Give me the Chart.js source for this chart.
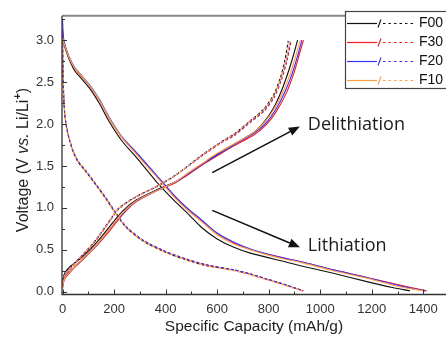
<!DOCTYPE html>
<html lang="en">
<head>
<meta charset="UTF-8">
<title>Voltage profiles</title>
<script src="https://cdn.jsdelivr.net/npm/chart.js"></script>
<style>
  html, body { margin: 0; padding: 0; background: #fff; overflow: hidden; }
  #wrap { width: 446px; height: 337px; }
</style>
</head>
<body>
<div id="wrap"><canvas id="myChart" width="446" height="337"></canvas></div>
<script>
// tick labels
const xTicks = [0, 200, 400, 600, 800, 1000, 1200, 1400];
const yTicks = [0, 0.5, 1.0, 1.5, 2.0, 2.5, 3.0];
const samples = ['F00', 'F30', 'F20', 'F10'];

// 1st lithiation (solid, going down) [capacity, voltage]
const f00Lith1 = [[0,3.05],[4,2.97],[15,2.86],[26,2.77],[46,2.64],[65,2.57],[104,2.43],[142,2.25],[181,2.03],[230,1.80],[284,1.61],[330,1.44],[362,1.32],[426,1.11],[490,0.92],[542,0.76],[600,0.63],[665,0.53],[729,0.46],[794,0.41],[860,0.36],[923,0.31],[1051,0.22],[1181,0.12],[1280,0.05],[1348,0.01]];
const f30Lith1 = [[0,3.12],[4,3.00],[15,2.88],[26,2.79],[46,2.67],[65,2.60],[104,2.46],[142,2.29],[181,2.07],[230,1.84],[284,1.66],[330,1.50],[362,1.39],[439,1.12],[490,0.97],[542,0.84],[600,0.69],[665,0.58],[729,0.50],[794,0.45],[860,0.40],[923,0.36],[1051,0.26],[1181,0.17],[1309,0.08],[1413,0.01]];
const f20Lith1 = [[0,3.25],[2,3.10],[5,3.00],[15,2.89],[26,2.80],[46,2.68],[65,2.61],[104,2.47],[142,2.30],[181,2.08],[230,1.85],[284,1.67],[330,1.51],[362,1.40],[439,1.13],[490,0.98],[542,0.85],[600,0.70],[665,0.59],[729,0.51],[794,0.45],[860,0.40],[923,0.36],[1051,0.26],[1181,0.17],[1309,0.07],[1408,0.01]];
const f10Lith1 = [[0,3.03],[4,2.98],[15,2.88],[26,2.79],[46,2.67],[65,2.61],[104,2.46],[142,2.29],[181,2.07],[230,1.84],[284,1.65],[330,1.49],[362,1.38],[439,1.11],[490,0.96],[542,0.83],[600,0.68],[665,0.57],[729,0.50],[794,0.44],[860,0.39],[923,0.35],[1051,0.25],[1181,0.16],[1309,0.06],[1400,0.01]];

// 1st delithiation (solid, going up)
const f00Delith1 = [[0,0.10],[3,0.17],[10,0.23],[26,0.29],[50,0.35],[78,0.42],[130,0.58],[181,0.77],[233,0.96],[284,1.09],[362,1.21],[439,1.31],[484,1.40],[542,1.52],[600,1.64],[665,1.76],[742,1.90],[781,2.02],[819,2.19],[850,2.40],[876,2.62],[896,2.82],[912,3.0]];
const f30Delith1 = [[0,0.04],[3,0.10],[10,0.16],[26,0.22],[50,0.30],[78,0.38],[130,0.54],[181,0.72],[233,0.92],[284,1.07],[362,1.20],[439,1.30],[484,1.39],[542,1.51],[600,1.62],[665,1.74],[742,1.87],[790,1.99],[830,2.15],[870,2.38],[897,2.60],[918,2.82],[935,3.0]];
const f20Delith1 = [[0,0.06],[3,0.12],[10,0.18],[26,0.24],[50,0.31],[78,0.39],[130,0.55],[181,0.74],[233,0.93],[284,1.08],[362,1.20],[439,1.31],[484,1.40],[542,1.52],[600,1.63],[665,1.75],[742,1.89],[786,2.00],[825,2.16],[864,2.39],[891,2.60],[912,2.81],[929,3.0]];
const f10Delith1 = [[0,0.05],[3,0.11],[10,0.17],[26,0.23],[50,0.31],[78,0.39],[130,0.55],[181,0.74],[233,0.94],[284,1.08],[362,1.20],[439,1.31],[484,1.41],[542,1.53],[600,1.65],[665,1.76],[742,1.90],[781,2.01],[819,2.17],[858,2.40],[884,2.60],[903,2.79],[923,3.0]];

// 2nd lithiation (dashed, going down)
const f00Lith2 = [[0,3.00],[2,2.60],[5,2.30],[9,2.10],[15,1.97],[25,1.83],[40,1.68],[60,1.55],[91,1.43],[130,1.27],[168,1.11],[207,0.93],[246,0.77],[310,0.61],[400,0.47],[490,0.37],[560,0.31],[665,0.26],[729,0.21],[794,0.15],[858,0.09],[926,0.02]];
const f30Lith2 = [[0,3.02],[2,2.62],[5,2.32],[9,2.12],[15,1.98],[25,1.84],[40,1.69],[60,1.56],[91,1.44],[130,1.28],[168,1.12],[207,0.94],[246,0.78],[310,0.62],[400,0.48],[490,0.38],[560,0.32],[665,0.26],[729,0.21],[794,0.15],[858,0.09],[935,0.01]];
const f20Lith2 = [[0,3.01],[2,2.61],[5,2.31],[9,2.11],[15,1.98],[25,1.84],[40,1.69],[60,1.56],[91,1.44],[130,1.28],[168,1.12],[207,0.94],[246,0.78],[310,0.62],[400,0.48],[490,0.38],[560,0.32],[665,0.26],[729,0.21],[794,0.15],[858,0.09],[932,0.01]];
const f10Lith2 = [[0,3.03],[2,2.63],[5,2.33],[9,2.12],[15,1.98],[25,1.83],[40,1.68],[60,1.55],[91,1.43],[130,1.27],[168,1.11],[207,0.93],[246,0.77],[310,0.61],[400,0.47],[490,0.37],[560,0.31],[665,0.25],[729,0.20],[794,0.14],[858,0.08],[930,0.01]];

// 2nd delithiation (dashed, going up)
const f00Delith2 = [[0,0.07],[3,0.15],[10,0.22],[26,0.28],[50,0.35],[78,0.44],[130,0.62],[181,0.84],[220,1.00],[284,1.13],[362,1.25],[439,1.39],[542,1.63],[613,1.78],[665,1.88],[729,2.04],[781,2.18],[819,2.35],[845,2.55],[862,2.75],[876,2.99]];
const f30Delith2 = [[0,0.05],[3,0.13],[10,0.20],[26,0.26],[50,0.34],[78,0.43],[130,0.61],[181,0.83],[220,0.99],[284,1.13],[362,1.25],[439,1.39],[542,1.62],[613,1.77],[665,1.86],[729,2.02],[781,2.15],[822,2.32],[850,2.53],[870,2.74],[887,2.99]];
const f20Delith2 = [[0,0.06],[3,0.14],[10,0.21],[26,0.27],[50,0.35],[78,0.44],[130,0.62],[181,0.84],[220,1.00],[284,1.13],[362,1.25],[439,1.39],[542,1.63],[613,1.78],[665,1.87],[729,2.03],[781,2.16],[820,2.33],[848,2.54],[867,2.74],[884,2.99]];
const f10Delith2 = [[0,0.05],[3,0.14],[10,0.21],[26,0.27],[50,0.35],[78,0.44],[130,0.62],[181,0.84],[220,1.00],[284,1.13],[362,1.25],[439,1.39],[542,1.63],[613,1.78],[665,1.88],[729,2.04],[781,2.17],[820,2.34],[847,2.54],[866,2.75],[881,2.99]];

const colors = { F00: '#111111', F30: '#ff1a1a', F20: '#3333ff', F10: '#ffa040' };
const curves = {
  F00: [f00Lith1, f00Delith1, f00Lith2, f00Delith2],
  F30: [f30Lith1, f30Delith1, f30Lith2, f30Delith2],
  F20: [f20Lith1, f20Delith1, f20Lith2, f20Delith2],
  F10: [f10Lith1, f10Delith1, f10Lith2, f10Delith2]
};
// draw order: orange on top, black at the bottom
const drawOrder = { F00: 3, F30: 2, F20: 1, F10: 0 };
const sans = 'Arial, "Liberation Sans", sans-serif';

const datasets = [];
samples.forEach(name => {
  curves[name].forEach((pts, i) => {
    datasets.push({
      label: name,
      data: pts.map(p => ({ x: p[0], y: p[1] })),
      borderColor: colors[name],
      borderWidth: i < 2 ? 1.15 : 1.1,
      borderDash: i < 2 ? [] : [3, 2],
      pointRadius: 0,
      showLine: true,
      fill: false,
      tension: 0.3,
      order: drawOrder[name]
    });
  });
});

// arrows + labels, in data units
const notes = [
  { text: 'Delithiation', from: [581, 1.42], to: [921, 1.97], at: [952, 1.99] },
  { text: 'Lithiation', from: [581, 0.97], to: [921, 0.53], at: [952, 0.55] }
];

const extras = {
  id: 'extras',
  afterDraw(chart) {
    const { ctx, chartArea: a, scales: { x, y } } = chart;
    ctx.save();

    // frame
    ctx.strokeStyle = '#8a8a8a';
    ctx.lineWidth = 2;
    ctx.beginPath(); ctx.moveTo(a.left, a.top); ctx.lineTo(chart.width, a.top); ctx.stroke();
    ctx.strokeStyle = '#333';
    ctx.lineWidth = 1.3;
    ctx.beginPath();
    ctx.moveTo(a.left, a.top); ctx.lineTo(a.left, a.bottom); ctx.lineTo(chart.width, a.bottom);
    ctx.stroke();

    // inward ticks, major + minor
    ctx.lineWidth = 1;
    ctx.beginPath();
    for (let v = 0; v <= 1400; v += 100) {
      const px = Math.round(x.getPixelForValue(v)) + 0.5;
      const len = v % 200 === 0 ? 5 : 3;
      ctx.moveTo(px, a.bottom); ctx.lineTo(px, a.bottom - len);
    }
    for (let k = 0; k <= 13; k++) {
      const v = k * 0.25;
      const py = Math.round(y.getPixelForValue(v)) + 0.5;
      const len = k % 2 === 0 ? 5 : 3;
      ctx.moveTo(a.left, py); ctx.lineTo(a.left + len, py);
    }
    ctx.stroke();

    // y axis title with italic "vs." and superscript "+"
    const parts = [
      { t: 'Voltage (V ', f: '16px ' + sans, dy: 0 },
      { t: 'vs.', f: 'italic 16px ' + sans, dy: 0 },
      { t: ' Li/Li', f: '16px ' + sans, dy: 0 },
      { t: '+', f: 'bold 11px ' + sans, dy: -6 },
      { t: ')', f: '16px ' + sans, dy: 0 }
    ];
    let total = 0;
    parts.forEach(p => { ctx.font = p.f; p.w = ctx.measureText(p.t).width; total += p.w; });
    ctx.translate(24, 160);
    ctx.rotate(-Math.PI / 2);
    ctx.fillStyle = '#222';
    ctx.textBaseline = 'middle';
    ctx.textAlign = 'left';
    let cx = -total / 2;
    parts.forEach(p => { ctx.font = p.f; ctx.fillText(p.t, cx, p.dy); cx += p.w; });
    ctx.setTransform(1, 0, 0, 1, 0, 0);

    // arrows and labels
    notes.forEach(n => {
      const x0 = x.getPixelForValue(n.from[0]), y0 = y.getPixelForValue(n.from[1]);
      const x1 = x.getPixelForValue(n.to[0]), y1 = y.getPixelForValue(n.to[1]);
      const ang = Math.atan2(y1 - y0, x1 - x0);
      const hl = 11, hw = 4.5;
      const bx = x1 - hl * Math.cos(ang), by = y1 - hl * Math.sin(ang);
      ctx.strokeStyle = '#111';
      ctx.lineWidth = 1.6;
      ctx.beginPath(); ctx.moveTo(x0, y0); ctx.lineTo(bx, by); ctx.stroke();
      ctx.fillStyle = '#111';
      ctx.beginPath();
      ctx.moveTo(x1, y1);
      ctx.lineTo(bx + hw * Math.sin(ang), by - hw * Math.cos(ang));
      ctx.lineTo(bx - hw * Math.sin(ang), by + hw * Math.cos(ang));
      ctx.closePath(); ctx.fill();
      ctx.font = '18px "Open Sans"';
      ctx.textBaseline = 'middle';
      ctx.textAlign = 'left';
      ctx.fillStyle = '#1a1a1a';
      ctx.fillText(n.text, x.getPixelForValue(n.at[0]), y.getPixelForValue(n.at[1]));
    });

    // legend box
    const lx = 345.5, ly = 11.5, rowH = 19;
    ctx.fillStyle = '#fff';
    ctx.fillRect(lx, ly, chart.width - lx, 77);
    ctx.strokeStyle = '#444';
    ctx.lineWidth = 1.2;
    ctx.strokeRect(lx, ly, chart.width - lx + 5, 77);
    ctx.font = '14px ' + sans;
    ctx.textBaseline = 'middle';
    samples.forEach((name, i) => {
      const ry = 23.5 + i * rowH;
      ctx.strokeStyle = colors[name];
      ctx.lineWidth = 1.2;
      ctx.setLineDash([]);
      ctx.beginPath(); ctx.moveTo(347, ry); ctx.lineTo(377, ry); ctx.stroke();
      ctx.beginPath(); ctx.moveTo(378, ry + 4); ctx.lineTo(381, ry - 4); ctx.stroke();
      ctx.setLineDash([2.5, 3]);
      ctx.beginPath(); ctx.moveTo(383, ry); ctx.lineTo(414, ry); ctx.stroke();
      ctx.setLineDash([]);
      ctx.fillStyle = '#111';
      ctx.fillText(name, 419, ry);
    });
    ctx.restore();
  }
};

const ctx = document.getElementById('myChart');
const myChart = new Chart(ctx, {
  type: 'scatter',
  data: { datasets },
  options: {
    responsive: false,
    animation: false,
    layout: { padding: { left: 0, top: 11, right: 0, bottom: 0 } },
    plugins: { legend: { display: false }, tooltip: { enabled: false } },
    scales: {
      x: {
        type: 'linear', min: -2, max: 1488,
        grid: { display: false, drawTicks: false },
        border: { display: false },
        afterBuildTicks: s => { s.ticks = xTicks.map(v => ({ value: v })); },
        afterFit: s => { s.height = 42.5; },
        ticks: { padding: 7, color: '#333', maxRotation: 0, autoSkip: false,
                 font: { family: sans, size: 13 }, callback: v => String(v) },
        title: { display: true, text: 'Specific Capacity (mAh/g)', color: '#222',
                 font: { family: sans, size: 15.5 }, padding: { top: 0, bottom: 1 } }
      },
      y: {
        type: 'linear', min: -0.033, max: 3.29,
        grid: { display: false, drawTicks: false },
        border: { display: false },
        afterBuildTicks: s => { s.ticks = yTicks.map(v => ({ value: v })); },
        afterFit: s => { s.width = 62; },
        ticks: { padding: 8, color: '#333', autoSkip: false,
                 font: { family: sans, size: 13 },
                 callback: v => Number(v).toFixed(1) }
      }
    }
  },
  plugins: [extras]
});
</script>
</body>
</html>
